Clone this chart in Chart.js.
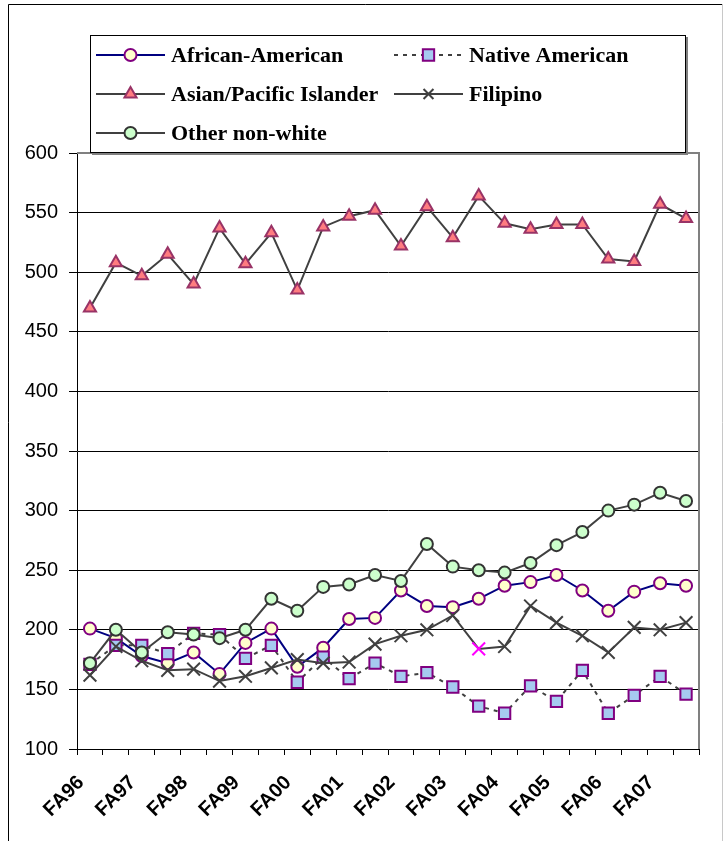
<!DOCTYPE html>
<html>
<head>
<meta charset="utf-8">
<script src="https://cdn.jsdelivr.net/npm/chart.js@4.4.1/dist/chart.umd.min.js"></script>
<style>
  html, body { margin: 0; padding: 0; background: #fff; }
  #wrap { position: relative; width: 724px; height: 841px; }
</style>
</head>
<body>
<div id="wrap"><canvas id="chart" width="724" height="841"></canvas></div>
<script>
// --- Data ---
const terms = ['FA96', '', 'FA97', '', 'FA98', '', 'FA99', '', 'FA00', '', 'FA01', '',
               'FA02', '', 'FA03', '', 'FA04', '', 'FA05', '', 'FA06', '', 'FA07', ''];

const africanAmerican = [201, 193, 178, 172, 181, 163, 189, 201, 169, 185, 209, 210,
                         233, 220, 219, 226, 237, 240, 246, 233, 216, 232, 239, 237];
const nativeAmerican  = [171, 187, 187, 180, 197, 196, 176, 187, 156, 177, 159, 172,
                         161, 164, 152, 136, 130, 153, 140, 166, 130, 145, 161, 146];
const asianPacific    = [470, 508, 497, 515, 490, 537, 507, 533, 485, 538, 547, 552,
                         522, 555, 529, 564, 541, 536, 540, 540, 511, 509, 557, 545];
const filipino        = [162, 186, 174, 166, 167, 157, 161, 168, 175, 172, 173, 188,
                         195, 200, 212, 184, 186, 220, 206, 195, 181, 202, 200, 206];
const otherNonWhite   = [172, 200, 181, 198, 196, 193, 200, 226, 216, 236, 238, 246,
                         241, 272, 253, 250, 248, 256, 271, 282, 300, 305, 315, 308];

const yTicks = { min: 100, max: 600, step: 50 };
const highlightFilipino = 15; // the one point drawn in magenta

// --- Styles ---
const LINE_GRAY = '#404040';
const AXIS_FONT = 'Arial, "Liberation Sans", sans-serif';
const LEGEND_FONT = '"Times New Roman", "Liberation Serif", serif';

const datasets = [
  {
    label: 'African-American', data: africanAmerican, order: 5,
    borderColor: '#000080', borderWidth: 2,
    pointStyle: 'circle', pointRadius: 6, pointBorderWidth: 2,
    pointBackgroundColor: '#FFFFCC', pointBorderColor: '#800080'
  },
  {
    label: 'Native American', data: nativeAmerican, order: 4,
    borderColor: LINE_GRAY, borderWidth: 2, borderDash: [4, 5],
    pointStyle: 'rect', pointRadius: 8, pointBorderWidth: 2,
    pointBackgroundColor: '#A6CAF0', pointBorderColor: '#800080'
  },
  {
    label: 'Asian/Pacific Islander', data: asianPacific, order: 3,
    borderColor: LINE_GRAY, borderWidth: 2,
    pointStyle: 'triangle', pointRadius: 7, pointBorderWidth: 2,
    pointBackgroundColor: '#FF7C80', pointBorderColor: '#993366'
  },
  {
    label: 'Filipino', data: filipino, order: 2,
    borderColor: LINE_GRAY, borderWidth: 2,
    pointStyle: 'crossRot', pointRadius: 9, pointBorderWidth: 2,
    pointBackgroundColor: LINE_GRAY,
    pointBorderColor: ctx => ctx.dataIndex === highlightFilipino ? '#FF00FF' : LINE_GRAY
  },
  {
    label: 'Other non-white', data: otherNonWhite, order: 1,
    borderColor: LINE_GRAY, borderWidth: 2,
    pointStyle: 'circle', pointRadius: 6, pointBorderWidth: 2,
    pointBackgroundColor: '#CCFFCC', pointBorderColor: '#333333'
  }
];

// legend slots: [column, row]
const legendSlots = [[0, 0], [1, 0], [0, 1], [1, 1], [0, 2]];

function resolve(v) {
  return typeof v === 'function' ? v({ dataIndex: -1 }) : v;
}

// --- Plugins: outer frame, plot border, Excel-like legend box ---
const framePlugin = {
  id: 'frame',
  beforeDraw(chart) {
    const ctx = chart.ctx;
    ctx.save();
    ctx.fillStyle = '#fff';
    ctx.fillRect(0, 0, chart.width, chart.height);
    ctx.lineWidth = 1;
    ctx.strokeStyle = '#000';
    ctx.beginPath();
    ctx.moveTo(8.5, chart.height);
    ctx.lineTo(8.5, 4.5);
    ctx.lineTo(722, 4.5);
    ctx.stroke();
    ctx.strokeStyle = '#c8c8c8';
    ctx.beginPath();
    ctx.moveTo(722.5, 4);
    ctx.lineTo(722.5, chart.height);
    ctx.stroke();
    ctx.restore();
  },
  beforeDatasetsDraw(chart) {
    const { ctx, chartArea: a } = chart;
    ctx.save();
    ctx.strokeStyle = '#808080';
    ctx.lineWidth = 2;
    ctx.beginPath();
    ctx.moveTo(a.left, a.top);
    ctx.lineTo(a.right, a.top);
    ctx.lineTo(a.right, a.bottom);
    ctx.stroke();
    ctx.restore();
  },
  afterDraw(chart) {
    const ctx = chart.ctx;
    const box = { x: 90, y: 35, w: 596, h: 118 };
    ctx.save();
    // shadow
    ctx.fillStyle = '#808080';
    ctx.fillRect(box.x + 2, box.y + 2, box.w, box.h);
    ctx.fillStyle = '#fff';
    ctx.fillRect(box.x, box.y, box.w, box.h);
    ctx.strokeStyle = '#000';
    ctx.lineWidth = 1;
    ctx.strokeRect(box.x + 0.5, box.y + 0.5, box.w - 1, box.h - 1);

    const colX = [96, 394];
    const sampleW = 69;
    ctx.font = 'bold 22px ' + LEGEND_FONT;
    ctx.textBaseline = 'middle';
    ctx.textAlign = 'left';
    chart.data.datasets.forEach((ds, i) => {
      const [c, r] = legendSlots[i];
      const x0 = colX[c];
      const y = 55 + r * 39;
      ctx.save();
      ctx.strokeStyle = ds.borderColor;
      ctx.lineWidth = ds.borderWidth;
      ctx.setLineDash(ds.borderDash || []);
      ctx.beginPath();
      ctx.moveTo(x0, y);
      ctx.lineTo(x0 + sampleW, y);
      ctx.stroke();
      ctx.setLineDash([]);
      ctx.fillStyle = resolve(ds.pointBackgroundColor);
      ctx.strokeStyle = resolve(ds.pointBorderColor);
      ctx.lineWidth = ds.pointBorderWidth;
      Chart.helpers.drawPoint(ctx, {
        pointStyle: ds.pointStyle,
        radius: ds.pointStyle === 'crossRot' ? 7 : ds.pointRadius,
        rotation: 0,
        borderWidth: ds.pointBorderWidth
      }, x0 + sampleW / 2, y);
      ctx.restore();
      ctx.fillStyle = '#000';
      ctx.fillText(ds.label, x0 + sampleW + 6, y + 1);
    });
    ctx.restore();
  }
};

new Chart(document.getElementById('chart'), {
  type: 'line',
  data: { labels: terms, datasets },
  plugins: [framePlugin],
  options: {
    responsive: false,
    animation: false,
    layout: { padding: { top: 153, right: 25, left: 0, bottom: 0 } },
    plugins: { legend: { display: false }, tooltip: { enabled: false } },
    elements: { line: { tension: 0 } },
    scales: {
      x: {
        type: 'category',
        offset: true,
        grid: { display: true, drawOnChartArea: false, drawTicks: true, tickLength: 6, color: '#000', offset: true },
        border: { display: true, color: '#000', width: 1 },
        ticks: {
          autoSkip: false, maxRotation: 45, minRotation: 45, padding: 16, labelOffset: -9,
          color: '#000', font: { family: AXIS_FONT, size: 20, weight: 'bold' }
        },
        afterFit(scale) { scale.height = 92; }
      },
      y: {
        min: yTicks.min, max: yTicks.max,
        ticks: { stepSize: yTicks.step, padding: 11, color: '#000', font: { family: AXIS_FONT, size: 20 } },
        grid: { color: '#000', lineWidth: 1, tickLength: 8 },
        border: { display: true, color: '#000', width: 1 },
        afterFit(scale) { scale.width = 77; }
      }
    }
  }
});
</script>
</body>
</html>
